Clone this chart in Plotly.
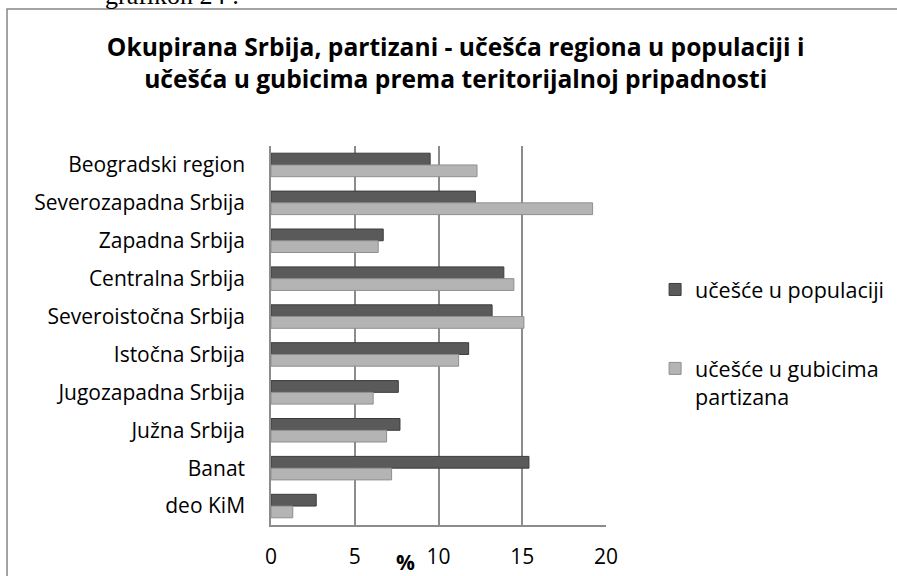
import plotly.graph_objects as go

categories = ["Beogradski region", "Severozapadna Srbija", "Zapadna Srbija",
              "Centralna Srbija", "Severoistočna Srbija", "Istočna Srbija",
              "Jugozapadna Srbija", "Južna Srbija", "Banat", "deo KiM"]
populacija = [9.5, 12.2, 6.7, 13.9, 13.2, 11.8, 7.6, 7.7, 15.4, 2.7]
gubici = [12.3, 19.2, 6.4, 14.5, 15.1, 11.2, 6.1, 6.9, 7.2, 1.3]
series_names = ["učešće u populaciji", "učešće u gubicima<br>partizana"]
x_ticks = [0, 5, 10, 15, 20]

FONT = "Open Sans"

fig = go.Figure()
fig.add_trace(go.Bar(
    y=categories, x=populacija, orientation="h", name=series_names[0],
    marker=dict(color="#5a5a5a", line=dict(color="#3c3c3c", width=1)),
    legendgroup="a"))
fig.add_trace(go.Bar(
    y=categories, x=gubici, orientation="h", name=series_names[1],
    marker=dict(color="#b4b4b4", line=dict(color="#8f8f8f", width=1)),
    legendgroup="b"))

fig.update_layout(
    width=897, height=576,
    margin=dict(l=271, r=291, t=146, b=51, autoexpand=False),
    paper_bgcolor="white", plot_bgcolor="white",
    barmode="group", bargap=0.38, bargroupgap=0.0,
    font=dict(family=FONT, color="#000000", size=21),
    title=dict(
        text="Okupirana Srbija, partizani - učešća regiona u populaciji i<br>"
             "učešća u gubicima prema teritorijalnoj pripadnosti",
        x=0.508, xref="container", xanchor="center",
        y=0.9028, yref="container", yanchor="top",
        font=dict(family=FONT, size=24.6, color="#000000", weight="bold")),
    xaxis=dict(range=[0, 20], tickvals=x_ticks, showgrid=True,
               gridcolor="#8c8c8c", gridwidth=1.5, zeroline=False,
               showline=True, linecolor="#8c8c8c", linewidth=1.5,
               ticks="", ticklabelstandoff=12,
               tickfont=dict(family=FONT, size=21)),
    yaxis=dict(autorange="reversed", showgrid=False, zeroline=False,
               showline=True, linecolor="#8c8c8c", linewidth=1.5,
               ticks="", ticklabelstandoff=20,
               tickfont=dict(family=FONT, size=21)),
    legend=dict(x=0.7303, xref="container", xanchor="left",
                y=0.533, yref="container", yanchor="top",
                traceorder="grouped", tracegroupgap=48, valign="top",
                font=dict(family=FONT, size=21.5), bgcolor="rgba(0,0,0,0)"),
    shapes=[dict(type="rect", xref="paper", yref="paper",
                 x0=-0.788, x1=2.0, y0=-0.6, y1=1.3615,
                 line=dict(color="#878787", width=1.5), layer="below")],
    annotations=[
        dict(text="%", xref="paper", yref="paper", x=0.400, y=-0.097,
             xanchor="center", yanchor="middle", showarrow=False,
             font=dict(family=FONT, size=21, weight="bold")),
        dict(text="grafikon 24 :", xref="paper", yref="paper", x=-0.501,
             y=1.354, xanchor="left", yanchor="bottom", showarrow=False,
             font=dict(family="Liberation Serif", size=26)),
    ],
)

fig.write_html("out.html", config={"displayModeBar": False},
               post_script="document.body.style.margin='0';")
